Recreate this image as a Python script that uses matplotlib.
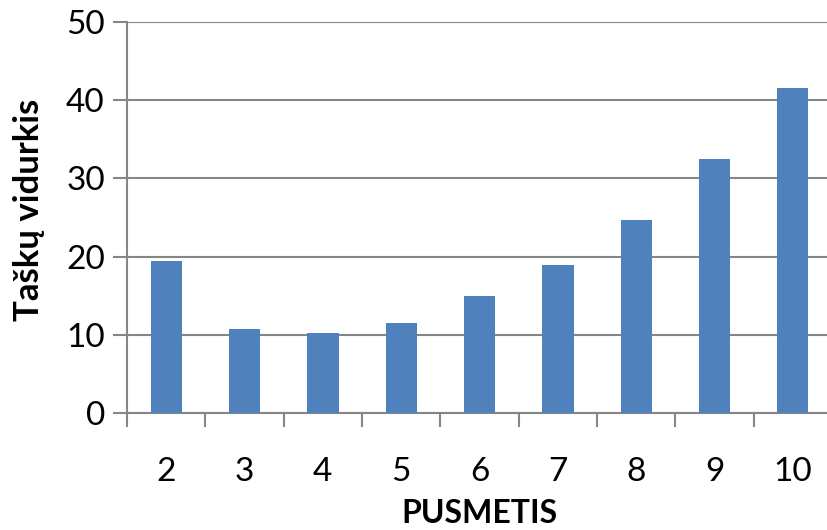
import numpy as np
import matplotlib.pyplot as plt

plt.rcParams['font.family'] = ['Lato', 'DejaVu Sans']

semesters = ['2', '3', '4', '5', '6', '7', '8', '9', '10']
averages = [19.4, 10.7, 10.2, 11.5, 15.0, 18.9, 24.7, 32.5, 41.6]

bar_color = '#4F81BD'
line_color = '#868686'

fig = plt.figure(figsize=(8.27, 5.30), dpi=100)
ax = fig.add_axes([127 / 827, 117 / 530, 705 / 827, 391 / 530])

x = np.arange(len(semesters))
ax.bar(x, averages, width=0.4, color=bar_color, zorder=3)

ax.set_xlim(-0.5, len(semesters) - 0.5)
ax.set_ylim(0, 50)
ax.set_yticks(range(0, 51, 10))
ax.yaxis.grid(True, color=line_color, linewidth=1.5, zorder=0)
ax.set_axisbelow(True)

ax.set_xticks(x)
ax.set_xticklabels(semesters)
ax.set_xticks(np.arange(-0.5, len(semesters), 1), minor=True)
ax.tick_params(axis='x', which='major', length=0, pad=32, labelsize=24)
ax.tick_params(axis='x', which='minor', length=10, width=1.5, color=line_color)
ax.tick_params(axis='y', length=10, width=1.5, color=line_color, labelsize=24, pad=6)

for side in ['top', 'right']:
    ax.spines[side].set_visible(False)
for side in ['left', 'bottom']:
    ax.spines[side].set_color(line_color)
    ax.spines[side].set_linewidth(1.5)

ax.set_xlabel('PUSMETIS', fontsize=23, fontweight='bold', labelpad=8)
ax.set_ylabel('Taškų vidurkis', fontsize=25, fontweight='bold')
ax.yaxis.set_label_coords(-0.117, 0.52)

fig.savefig('out.png', dpi=100)
